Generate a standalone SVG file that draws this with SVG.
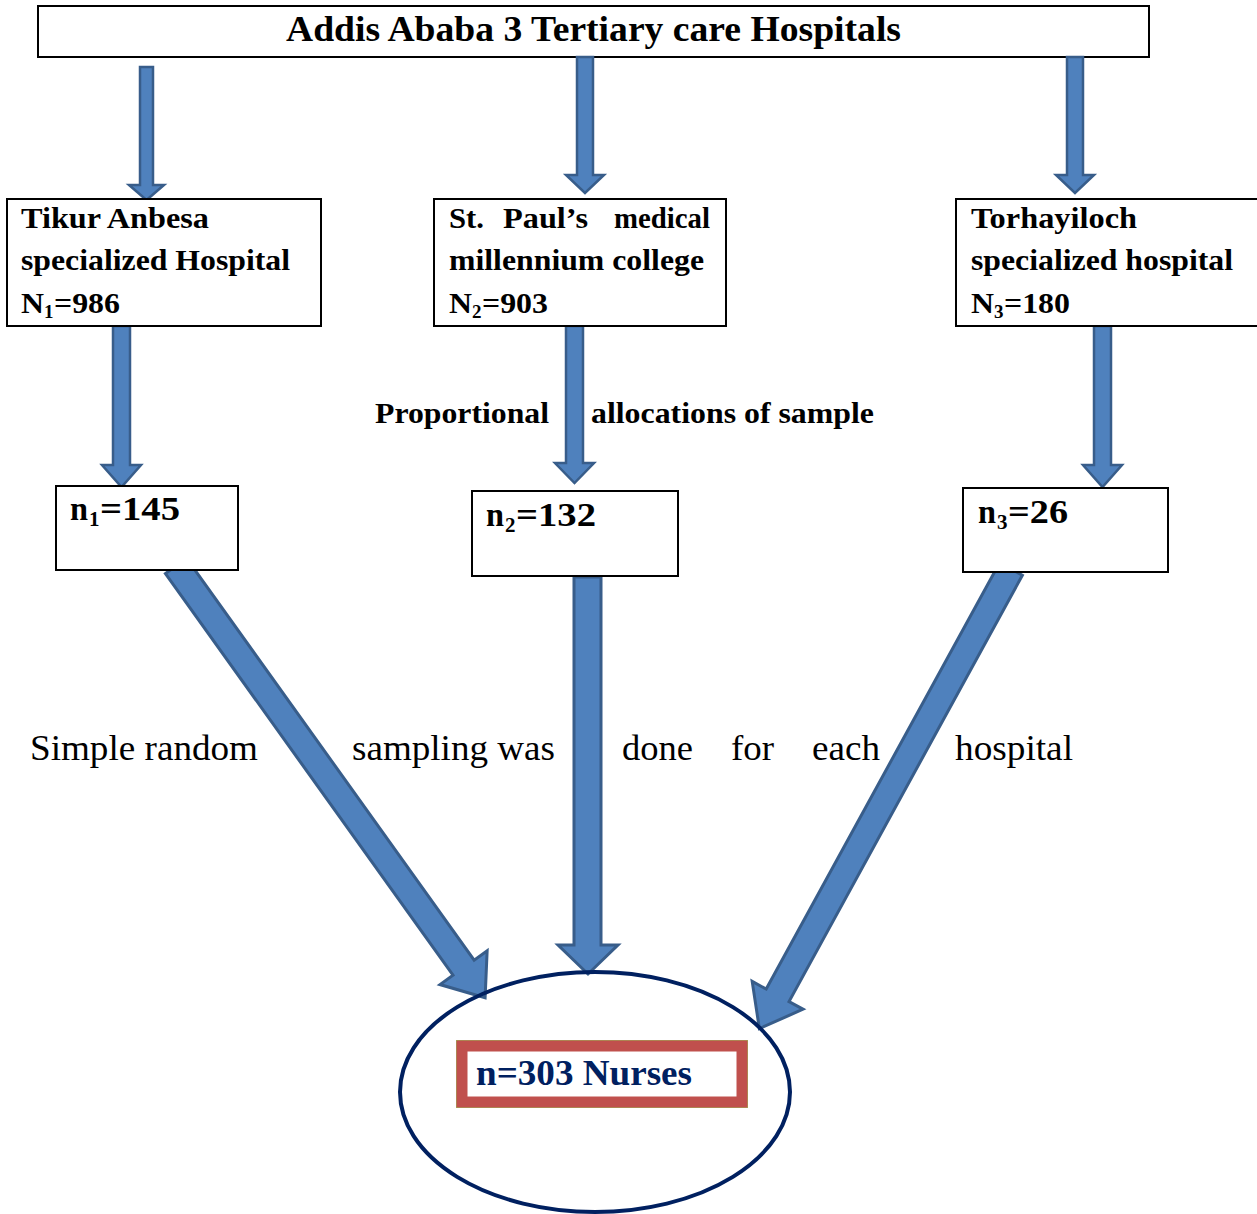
<svg xmlns="http://www.w3.org/2000/svg" width="1257" height="1214" viewBox="0 0 1257 1214">
<style>
.box{fill:#fff;stroke:#000;stroke-width:2}
.arr{fill:#4F81BD;stroke:#385D8A;stroke-width:3;stroke-linejoin:miter}
.sarr{fill:#4F81BD;stroke:#385D8A;stroke-width:2.5}
.b{font-family:"Liberation Serif","Times New Roman",serif;font-weight:bold;fill:#000}
.r{font-family:"Liberation Serif","Times New Roman",serif;fill:#000}
</style>
<rect width="1257" height="1214" fill="#fff"/>
<g id="top">
<rect class="box" x="38" y="6" width="1111" height="51"/>
<text class="b" x="286" y="41" font-size="35" textLength="615" lengthAdjust="spacingAndGlyphs">Addis Ababa 3 Tertiary care Hospitals</text>
</g>
<g id="connectors">
<polygon class="sarr" points="140,67 153,67 153,185 164,185 146.5,200 129,185 140,185"/>
<polygon class="sarr" points="577,57 593,57 593,175 604,175 585,193 566,175 577,175"/>
<polygon class="sarr" points="1067,57 1083,57 1083,175 1094,175 1075,193 1056,175 1067,175"/>
<polygon class="sarr" points="113,326 130,326 130,465 141,465 121.5,487 102,465 113,465"/>
<polygon class="sarr" points="566,326 583,326 583,463 594,463 574.5,483 555,463 566,463"/>
<polygon class="sarr" points="1094,326 1111,326 1111,465 1122,465 1102.5,487 1083,465 1094,465"/>
<polygon class="arr" transform="translate(176,566) rotate(54.4)" points="0,-13 494,-13 494,-29 531,0 494,29 494,13 0,13"/>
<polygon class="arr" points="574,577 601,577 601,945 618,945 588,974 558,945 574,945"/>
<polygon class="arr" transform="translate(1011,569) rotate(118.7)" points="0,-13 486,-13 486,-29 524,0 486,29 486,13 0,13"/>
</g>
<g id="box1">
<rect class="box" x="7" y="199" width="314" height="127"/>
<text class="b" font-size="30" x="21" y="228" textLength="188" lengthAdjust="spacingAndGlyphs">Tikur Anbesa</text>
<text class="b" font-size="30" x="21" y="270" textLength="269" lengthAdjust="spacingAndGlyphs">specialized Hospital</text>
<text class="b" font-size="30" x="21" y="313" textLength="23" lengthAdjust="spacingAndGlyphs">N</text>
<text class="b" font-size="19" x="44" y="318">1</text>
<text class="b" font-size="30" x="54" y="313" textLength="66" lengthAdjust="spacingAndGlyphs">=986</text>
</g>
<g id="box2">
<rect class="box" x="434" y="199" width="292" height="127"/>
<text class="b" font-size="30" x="449" y="228" textLength="35" lengthAdjust="spacingAndGlyphs">St.</text>
<text class="b" font-size="30" x="503" y="228" textLength="85" lengthAdjust="spacingAndGlyphs">Paul’s</text>
<text class="b" font-size="30" x="614" y="228" textLength="96" lengthAdjust="spacingAndGlyphs">medical</text>
<text class="b" font-size="30" x="449" y="270" textLength="255" lengthAdjust="spacingAndGlyphs">millennium college</text>
<text class="b" font-size="30" x="449" y="313" textLength="23" lengthAdjust="spacingAndGlyphs">N</text>
<text class="b" font-size="19" x="472" y="318">2</text>
<text class="b" font-size="30" x="482" y="313" textLength="66" lengthAdjust="spacingAndGlyphs">=903</text>
</g>
<g id="box3">
<rect class="box" x="956" y="199" width="310" height="127"/>
<text class="b" font-size="30" x="971" y="228" textLength="166" lengthAdjust="spacingAndGlyphs">Torhayiloch</text>
<text class="b" font-size="30" x="971" y="270" textLength="262" lengthAdjust="spacingAndGlyphs">specialized hospital</text>
<text class="b" font-size="30" x="971" y="313" textLength="23" lengthAdjust="spacingAndGlyphs">N</text>
<text class="b" font-size="19" x="994" y="318">3</text>
<text class="b" font-size="30" x="1004" y="313" textLength="66" lengthAdjust="spacingAndGlyphs">=180</text>
</g>
<g id="label-prop">
<text class="b" font-size="29" x="375" y="423" textLength="174" lengthAdjust="spacingAndGlyphs">Proportional</text>
<text class="b" font-size="29" x="591" y="423" textLength="283" lengthAdjust="spacingAndGlyphs">allocations of sample</text>
</g>
<g id="n1">
<rect class="box" x="56" y="486" width="182" height="84"/>
<text class="b" font-size="34" x="70" y="520" textLength="18" lengthAdjust="spacingAndGlyphs">n</text>
<text class="b" font-size="21" x="89" y="526">1</text>
<text class="b" font-size="34" x="100" y="520" textLength="80" lengthAdjust="spacingAndGlyphs">=145</text>
</g>
<g id="n2">
<rect class="box" x="472" y="491" width="206" height="85"/>
<text class="b" font-size="34" x="486" y="526" textLength="18" lengthAdjust="spacingAndGlyphs">n</text>
<text class="b" font-size="21" x="505" y="532">2</text>
<text class="b" font-size="34" x="516" y="526" textLength="80" lengthAdjust="spacingAndGlyphs">=132</text>
</g>
<g id="n3">
<rect class="box" x="963" y="488" width="205" height="84"/>
<text class="b" font-size="34" x="978" y="523" textLength="18" lengthAdjust="spacingAndGlyphs">n</text>
<text class="b" font-size="21" x="997" y="529">3</text>
<text class="b" font-size="34" x="1008" y="523" textLength="60" lengthAdjust="spacingAndGlyphs">=26</text>
</g>
<g id="label-srs">
<text class="r" font-size="35" x="30" y="760" textLength="228" lengthAdjust="spacingAndGlyphs">Simple random</text>
<text class="r" font-size="35" x="352" y="760" textLength="203" lengthAdjust="spacingAndGlyphs">sampling was</text>
<text class="r" font-size="35" x="622" y="760" textLength="71" lengthAdjust="spacingAndGlyphs">done</text>
<text class="r" font-size="35" x="731" y="760" textLength="43" lengthAdjust="spacingAndGlyphs">for</text>
<text class="r" font-size="35" x="812" y="760" textLength="68" lengthAdjust="spacingAndGlyphs">each</text>
<text class="r" font-size="35" x="955" y="760" textLength="118" lengthAdjust="spacingAndGlyphs">hospital</text>
</g>
<g id="result">
<ellipse cx="595" cy="1092" rx="195" ry="120" fill="none" stroke="#002060" stroke-width="4"/>
<rect x="456" y="1040" width="292" height="68" fill="#9BBB59"/>
<rect x="462" y="1046" width="280" height="56" fill="#fff" stroke="#C0504D" stroke-width="11"/>
<text class="b" font-size="35" x="476" y="1085" style="fill:#002060" textLength="216" lengthAdjust="spacingAndGlyphs">n=303 Nurses</text>
</g>
</svg>
